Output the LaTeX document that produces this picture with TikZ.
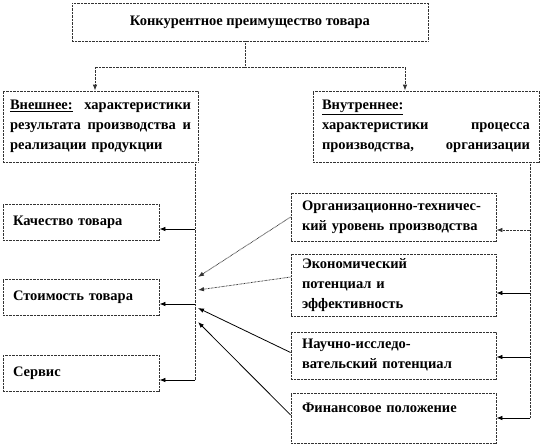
\documentclass[tikz,border=0pt]{standalone}
\usepackage{fontspec}
\setmainfont{Liberation Serif}
\usetikzlibrary{arrows.meta,calc}
\definecolor{ink}    {HTML}{000000}
\definecolor{dotgray}{HTML}{333333}
\newcommand\boxfont{\fontsize{14.5}{20}\selectfont\bfseries}
\tikzset{
  box/.style    ={draw=dotgray, dash pattern=on 0.7pt off 0.7pt, line width=0.8pt,
                  fill=white, align=left, font=\boxfont, inner ysep=0pt},
  sbox/.style   ={box, text width=136pt, inner xsep=10pt, minimum height=36pt},
  rbox/.style   ={box, text width=183pt, inner xsep=11pt},
  dotline/.style={draw=dotgray, dash pattern=on 0.7pt off 0.7pt, line width=0.8pt},
  dotarr/.style ={dotline, -{Latex[length=6pt,width=4.5pt]}},
  arr/.style    ={draw=ink, line width=0.8pt, -{Latex[length=6pt,width=4.5pt]}},
}
\begin{document}
\begin{tikzpicture}[x=1pt,y=-1pt]
  \useasboundingbox (0,0) rectangle (546,445);
  % top level
  \node[box,align=center,minimum width=356pt,minimum height=38pt] (goal) at (250,22)
    {Конкурентное преимущество товара};
  \node[box,text width=181pt,inner xsep=7pt,minimum height=71pt] (outer) at (100.5,126.5)
    {\underline{Внешнее:}\hfill характеристики\\
     результата\hfill производства\hfill и\\
     реализации продукции};
  \node[box,text width=208pt,inner xsep=9pt,minimum height=71pt] (inner) at (426,126.5)
    {\underline{Внутреннее:}\\
     характеристики\hfill процесса\\
     производства,\hfill организации};
  % left column
  \node[sbox] (quality) at (81,222)   {Качество товара};
  \node[sbox] (cost)    at (81,297)   {Стоимость товара};
  \node[sbox] (service) at (81,373.5) {Сервис};
  % right column
  \node[rbox,minimum height=48pt] (orgtech)  at (393.5,217)
    {Организационно-техничес-\\кий уровень производства};
  \node[rbox,minimum height=62pt] (econ)     at (393.5,285)
    {Экономический\\потенциал и\\эффективность};
  \node[rbox,minimum height=47pt] (research) at (393.5,355.5)
    {Научно-исследо-\\вательский потенциал};
  \node[rbox,minimum height=50pt,text depth=20pt] (finance) at (393.5,418)
    {Финансовое положение};

  \coordinate (fork) at (245,67);
  \draw[dotline] (goal.south -| fork) -- (fork);
  \draw[dotarr] (fork) -| ([xshift=-5.5pt]outer.north);
  \draw[dotarr] (fork) -| ([xshift=-21pt]inner.north);

  % left spine
  \coordinate (lq)   at (195,229);
  \coordinate (lc)   at (195,304);
  \coordinate (lend) at (195,380);
  \draw[dotline] (outer.south -| lend) -- (lend);
  \draw[arr] (lq)   -- (lq -| quality.east);
  \draw[arr] (lc)   -- (lc -| cost.east);
  \draw[arr] (lend) -- (lend -| service.east);

  % right spine
  \coordinate (r1)   at (530,230);
  \coordinate (r2)   at (530,293);
  \coordinate (r3)   at (530,357);
  \coordinate (rend) at (530,418);
  \draw[dotline] (inner.south -| rend) -- (rend);
  \draw[dotarr] (r1)   -- (r1 -| orgtech.east);
  \draw[arr]    (r2)   -- (r2 -| econ.east);
  \draw[arr]    (r3)   -- (r3 -| research.east);
  \draw[arr]    (rend) -- (rend -| finance.east);

  % factors into the left spine
  \coordinate (t1) at (198,277);
  \coordinate (t2) at (198,290);
  \coordinate (t3) at (198,308);
  \coordinate (t4) at (198,322);
  \draw[dotarr] (orgtech.west) -- (t1);
  \draw[dotarr] ([yshift=8pt]econ.west) -- (t2);
  \draw[arr]    ([yshift=3pt]research.west) -- (t3);
  \draw[arr]    ([yshift=3pt]finance.west) -- (t4);
\end{tikzpicture}
\end{document}
